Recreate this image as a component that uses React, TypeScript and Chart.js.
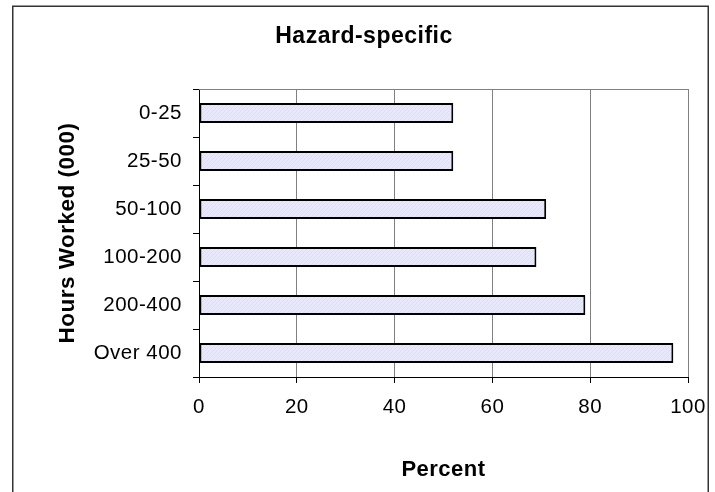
import { useEffect, useRef } from "react";
import { Chart, registerables } from "chart.js";

Chart.register(...registerables);

const FONT = '"Liberation Sans", Arial, Helvetica, sans-serif';

const chartTitle = "Hazard-specific";
const yAxisTitle = "Hours Worked (000)";
const xAxisTitle = "Percent";
const categories = ["0-25", "25-50", "50-100", "100-200", "200-400", "Over 400"];
const percentValues = [52, 52, 71, 69, 79, 97];
const percentTicks = [0, 20, 40, 60, 80, 100];

// Light lavender fill with a faint diagonal hatch.
function makeHatch(): CanvasPattern | string {
  const tile = document.createElement("canvas");
  tile.width = 4;
  tile.height = 4;
  const g = tile.getContext("2d");
  if (!g) return "#E4E4F8";
  g.fillStyle = "#E8E8FB";
  g.fillRect(0, 0, 4, 4);
  g.fillStyle = "#DEDEF3";
  for (let i = 0; i < 4; i++) g.fillRect(i, 3 - i, 1, 1);
  return g.createPattern(tile, "repeat") ?? "#E4E4F8";
}

const framePlugin = {
  id: "frame",
  beforeDraw(chart: any) {
    chart.ctx.letterSpacing = "0.5px";
  },
  beforeDatasetsDraw(chart: any) {
    const { ctx, chartArea } = chart;
    ctx.save();
    ctx.strokeStyle = "#808080";
    ctx.lineWidth = 1;
    ctx.beginPath();
    ctx.moveTo(chartArea.left, Math.round(chartArea.top) + 0.5);
    ctx.lineTo(chartArea.right, Math.round(chartArea.top) + 0.5);
    ctx.stroke();
    ctx.restore();
  },
  afterDraw(chart: any) {
    const { ctx } = chart;
    ctx.save();
    ctx.strokeStyle = "#333";
    ctx.lineWidth = 1.5;
    ctx.strokeRect(12.75, 6.25, 695.5, 600);
    ctx.restore();
  },
};

export default function App() {
  const canvasRef = useRef<HTMLCanvasElement | null>(null);

  useEffect(() => {
    if (!canvasRef.current) return;
    const chart = new Chart(canvasRef.current, {
      type: "bar",
      data: {
        labels: categories,
        datasets: [
          {
            data: percentValues,
            backgroundColor: makeHatch() as any,
            borderColor: "#000",
            borderWidth: 2,
            borderSkipped: false,
            barPercentage: 0.42,
            categoryPercentage: 1,
          },
        ],
      },
      options: {
        indexAxis: "y",
        animation: false,
        responsive: true,
        maintainAspectRatio: false,
        layout: { padding: { left: 13, top: 6, right: 0, bottom: 0 } },
        plugins: {
          legend: { display: false },
          tooltip: { enabled: false },
          title: {
            display: true,
            text: chartTitle,
            color: "#000",
            font: { family: FONT, size: 23, weight: "bold" },
            padding: { top: 16.5, bottom: 38.9 },
          },
        },
        scales: {
          x: {
            type: "linear",
            min: percentTicks[0],
            max: percentTicks[percentTicks.length - 1],
            afterFit: (scale: any) => {
              scale.height = 115;
              scale.paddingLeft = 0;
              scale.paddingRight = 27;
            },
            afterBuildTicks: (scale: any) => {
              scale.ticks = percentTicks.map((v) => ({ value: v }));
            },
            ticks: {
              color: "#000",
              font: { family: FONT, size: 20.5 },
              padding: 12.5,
            },
            grid: {
              color: (ctx: any) => (ctx.index === 0 ? "rgba(0,0,0,0)" : "#808080"),
              tickColor: "#000",
              tickLength: 6,
              lineWidth: 1,
            },
            border: { color: "#000", width: 1 },
            title: {
              display: true,
              text: xAxisTitle,
              color: "#000",
              font: { family: FONT, size: 22, weight: "bold" },
              padding: { top: 0, bottom: 9.1 },
            },
          },
          y: {
            type: "category",
            afterFit: (scale: any) => {
              scale.width = 186;
            },
            ticks: {
              color: "#000",
              font: { family: FONT, size: 20.5 },
              padding: 11,
            },
            grid: {
              drawOnChartArea: false,
              drawTicks: true,
              tickLength: 6,
              tickColor: "#000",
              offset: true,
            },
            border: { color: "#000", width: 1 },
            title: {
              display: true,
              text: yAxisTitle,
              color: "#000",
              font: { family: FONT, size: 22.5, weight: "bold" },
              padding: { top: 41.5, bottom: 0 },
            },
          },
        },
      } as any,
      plugins: [framePlugin],
    });
    return () => chart.destroy();
  }, []);

  return (
    <div
      style={{
        position: "fixed",
        left: 0,
        top: 0,
        width: 715,
        height: 492,
        background: "#fff",
      }}
    >
      <canvas ref={canvasRef} />
    </div>
  );
}
